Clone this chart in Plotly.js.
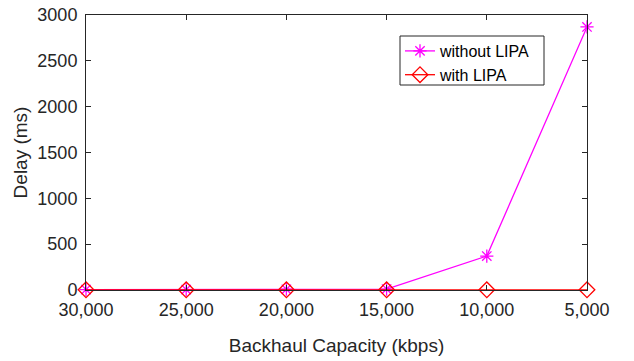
<!DOCTYPE html>
<html>
<head>
<meta charset="utf-8">
<script src="https://cdn.plot.ly/plotly-3.0.1.min.js"></script>
<style>html,body{margin:0;padding:0;background:#fff}#chart{width:634px;height:361px}</style>
</head>
<body>
<div id="chart"></div>
<script>
const capacity = [30000, 25000, 20000, 15000, 10000, 5000];
const withoutLIPA = [5, 5, 8, 10, 370, 2870];
const withLIPA = [2, 2, 2, 2, 2, 2];
const seriesNames = ["without LIPA", "with LIPA"];
const yTicks = [0, 500, 1000, 1500, 2000, 2500, 3000];

const txt = '#262626';
const fam = 'Arial, "Liberation Sans", sans-serif';

const traces = [
  {x: capacity, y: withoutLIPA, name: seriesNames[0], type: 'scatter', mode: 'lines+markers',
   line: {color: '#ff00ff', width: 1.3},
   marker: {symbol: 'asterisk-open', size: 11, line: {color: '#ff00ff', width: 1.3}, color: '#ff00ff'},
   cliponaxis: false},
  {x: capacity, y: withLIPA, name: seriesNames[1], type: 'scatter', mode: 'lines+markers',
   line: {color: '#ff0000', width: 1.3},
   marker: {symbol: 'diamond-open', size: 12, line: {color: '#ff0000', width: 1.3}, color: '#ff0000'},
   cliponaxis: false}
];

// plot area: x 86..587, y 15..290 (px)
const pxX = p => (p - 86) / 501;
const pxY = p => (290 - p) / 275;

const layout = {
  width: 634, height: 361,
  margin: {l: 86, r: 47, t: 15, b: 71},
  paper_bgcolor: '#fff', plot_bgcolor: '#fff',
  font: {family: fam, size: 18, color: txt},
  showlegend: true,
  legend: {x: pxX(400), y: pxY(34), xanchor: 'left', yanchor: 'top',
    borderwidth: 0, bgcolor: 'rgba(0,0,0,0)',
    font: {family: fam, size: 16, color: '#000'}, tracegroupgap: 0},
  shapes: [{type: 'rect', xref: 'paper', yref: 'paper', layer: 'below',
    x0: pxX(400), x1: pxX(544), y0: pxY(85), y1: pxY(36),
    line: {color: '#262626', width: 1}, fillcolor: '#fff'}],
  xaxis: {
    range: [30000, 5000], tickvals: capacity, tickformat: ',d',
    showgrid: false, zeroline: false, showline: true, linecolor: '#262626', linewidth: 1,
    mirror: 'ticks', ticks: 'inside', ticklen: 5, tickcolor: '#262626',
    ticklabelstandoff: 3,
    tickfont: {family: fam, size: 18, color: txt},
    title: {text: 'Backhaul Capacity (kbps)', font: {family: fam, size: 19, color: txt}, standoff: 20}
  },
  yaxis: {
    range: [0, 3000], tickvals: yTicks,
    showgrid: false, zeroline: false, showline: true, linecolor: '#262626', linewidth: 1,
    mirror: 'ticks', ticks: 'inside', ticklen: 5, tickcolor: '#262626',
    ticklabelstandoff: 4,
    tickfont: {family: fam, size: 18, color: txt},
    title: {text: 'Delay (ms)', font: {family: fam, size: 19, color: txt}, standoff: 4}
  }
};

Plotly.newPlot('chart', traces, layout, {displayModeBar: false, staticPlot: true});
</script>
</body>
</html>
